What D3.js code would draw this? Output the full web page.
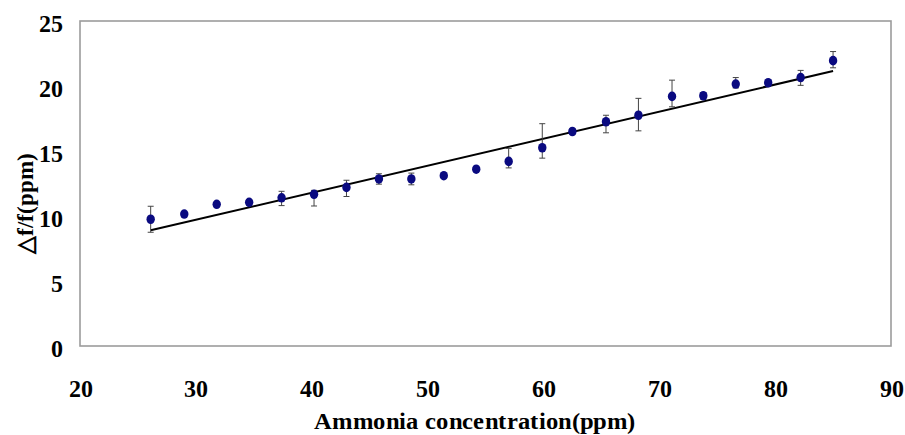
<!DOCTYPE html>
<html>
<head>
<meta charset="utf-8">
<script src="https://cdn.jsdelivr.net/npm/d3@7/dist/d3.min.js"></script>
<style>
  @font-face { font-family: "ChartSerif"; src: local("Liberation Serif Bold"), local("LiberationSerif-Bold"), local("Liberation Serif"); font-weight: bold; }
  body { margin: 0; }
  svg text { font-family: "ChartSerif", "Liberation Serif", serif; font-weight: bold; }
</style>
</head>
<body>
<svg id="chart" width="905" height="435"></svg>
<script>
// ---- data ----
const concentration = [26.1, 29.0, 31.8, 34.6, 37.4, 40.2, 43.0, 45.8, 48.6, 51.4, 54.2, 57.0, 59.9, 62.5, 65.4, 68.2, 71.1, 73.8, 76.6, 79.4, 82.2, 85.0];
const response      = [9.75, 10.15, 10.9, 11.05, 11.4, 11.67, 12.2, 12.85, 12.85, 13.1, 13.6, 14.2, 15.25, 16.5, 17.25, 17.75, 19.2, 19.25, 20.15, 20.25, 20.65, 21.95];
const errorUp       = [1.0, 0.2, 0.15, 0.2, 0.5, 0.3, 0.55, 0.4, 0.45, 0.15, 0.15, 1.0, 1.85, 0.2, 0.5, 1.3, 1.25, 0.25, 0.5, 0.2, 0.55, 0.7];
const errorDown     = [1.0, 0.2, 0.15, 0.2, 0.6, 0.9, 0.7, 0.4, 0.45, 0.15, 0.15, 0.5, 0.8, 0.2, 0.85, 1.2, 0.8, 0.25, 0.3, 0.2, 0.6, 0.55];
const trendX = [26.1, 85.0];
const trendY = [8.9, 21.15];
const xTicks = [20, 30, 40, 50, 60, 70, 80, 90];
const yTicks = [0, 5, 10, 15, 20, 25];
const xTitle = "Ammonia concentration(ppm)";
const yTitle = "\u25B3f/f(ppm)";

// ---- layout ----
const svg = d3.select("#chart");
const L = 80, R = 891, T = 21, B = 346;
const x = d3.scaleLinear().domain([20, 90]).range([L, R]);
const y = d3.scaleLinear().domain([0, 25]).range([B, T]);

// plot frame
svg.append("rect")
  .attr("x", L).attr("y", T).attr("width", R - L).attr("height", B - T)
  .attr("fill", "#fff").attr("stroke", "#9c9c9c").attr("stroke-width", 1.6);

// axes: labels only, no tick marks
const xAxis = svg.append("g")
  .attr("transform", `translate(0,${B + 34})`)
  .call(d3.axisBottom(x).tickValues(xTicks).tickSize(0).tickPadding(0).tickFormat(d3.format("d")));
xAxis.attr("font-family", null).attr("font-size", 24);
xAxis.select(".domain").remove();
xAxis.selectAll("text").attr("dy", "0.71em").attr("fill", "#000");

const yAxis = svg.append("g")
  .attr("transform", `translate(${L - 17},0)`)
  .call(d3.axisLeft(y).tickValues(yTicks).tickSize(0).tickPadding(0).tickFormat(d3.format("d")));
yAxis.attr("font-family", null).attr("font-size", 24);
yAxis.select(".domain").remove();
yAxis.selectAll("text").attr("x", 0).attr("dy", "0.45em").attr("fill", "#000");

// trend line
svg.append("path")
  .datum(trendX.map((d, i) => [d, trendY[i]]))
  .attr("d", d3.line().x(d => x(d[0])).y(d => y(d[1])))
  .attr("stroke", "#000").attr("stroke-width", 2).attr("fill", "none");

// error bars
const pts = concentration.map((c, i) => ({ c, v: response[i], up: errorUp[i], dn: errorDown[i] }));
const eb = svg.append("g").attr("stroke", "#444").attr("stroke-width", 1);
eb.selectAll("line.v").data(pts).join("line").attr("class", "v")
  .attr("x1", d => x(d.c)).attr("x2", d => x(d.c))
  .attr("y1", d => y(d.v + d.up)).attr("y2", d => y(d.v - d.dn));
eb.selectAll("line.t").data(pts).join("line").attr("class", "t")
  .attr("x1", d => x(d.c) - 3).attr("x2", d => x(d.c) + 3)
  .attr("y1", d => y(d.v + d.up)).attr("y2", d => y(d.v + d.up));
eb.selectAll("line.b").data(pts).join("line").attr("class", "b")
  .attr("x1", d => x(d.c) - 3).attr("x2", d => x(d.c) + 3)
  .attr("y1", d => y(d.v - d.dn)).attr("y2", d => y(d.v - d.dn));

// markers
svg.append("g").selectAll("ellipse").data(pts).join("ellipse")
  .attr("cx", d => x(d.c)).attr("cy", d => y(d.v))
  .attr("rx", 4.2).attr("ry", 4.8)
  .attr("fill", "#0a0a80");

// titles
svg.append("text")
  .attr("transform", "translate(475,429) scale(1.07,1)")
  .attr("text-anchor", "middle").attr("font-size", 23)
  .text(xTitle);

svg.append("text")
  .attr("transform", "translate(33,203) rotate(-90)")
  .attr("text-anchor", "middle").attr("font-size", 23)
  .text(yTitle);
</script>
</body>
</html>
